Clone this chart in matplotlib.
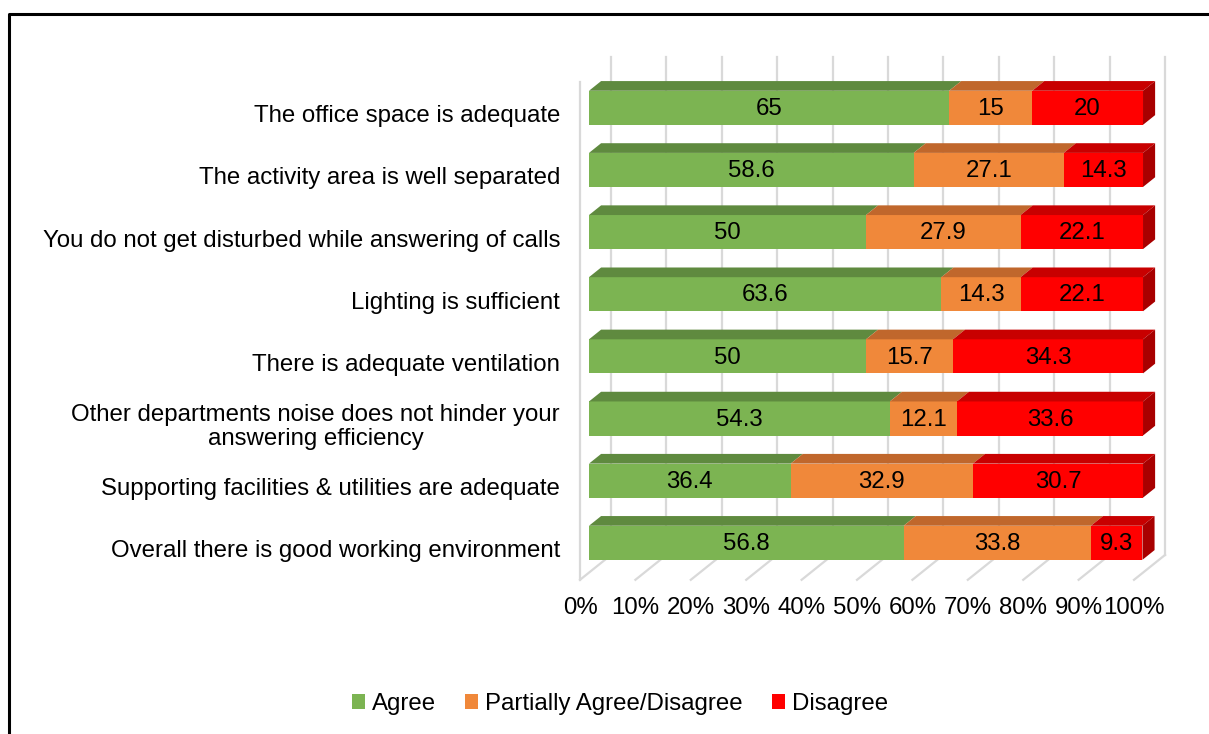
import matplotlib.pyplot as plt
from matplotlib.patches import Polygon, Rectangle, Patch
from matplotlib.lines import Line2D

plt.rcParams['font.family'] = ['Liberation Sans', 'DejaVu Sans']

# Data
categories = [
    "The office space is adequate",
    "The activity area is well separated",
    "You do not get disturbed while answering of calls",
    "Lighting is sufficient",
    "There is adequate ventilation",
    "Other departments noise does not hinder your\nanswering efficiency",
    "Supporting facilities & utilities are adequate",
    "Overall there is good working environment",
]
agree = [65, 58.6, 50, 63.6, 50, 54.3, 36.4, 56.8]
partial = [15, 27.1, 27.9, 14.3, 15.7, 12.1, 32.9, 33.8]
disagree = [20, 14.3, 22.1, 22.1, 34.3, 33.6, 30.7, 9.3]
series_names = ["Agree", "Partially Agree/Disagree", "Disagree"]
ticks = [0, 10, 20, 30, 40, 50, 60, 70, 80, 90, 100]

face = ["#7cb452", "#f0883a", "#ff0000"]
top = ["#5f8a3f", "#c0672c", "#c80000"]
side = ["#4e7334", "#a1521f", "#a80000"]

FS = 17.3

# fake 3d settings (depth direction in data units)
DX = 5.6     # x shift for full depth
DY = 0.40    # row shift for full depth
D_FRONT, D_BACK = 0.29, 0.68
HALF = 0.274
FLOOR = 7.48
WALL_TOP = -0.53

fig = plt.figure(figsize=(12.09, 7.34), dpi=100)
W, H = 1209, 734
ax = fig.add_axes([560 / W, 1 - 590 / H, 620 / W, 540 / H])
ax.set_xlim(-3.61, 108.3)
ax.set_ylim(7.644, -1.046)
ax.axis('off')


def P(v, r, d):
    return (v + d * DX, r - d * DY)


grid_kw = dict(color="#d9d9d9", lw=1.6, zorder=1)
# back wall gridlines
for t in ticks:
    x0, y0 = P(t, FLOOR, 1)
    x1, y1 = P(t, WALL_TOP, 1)
    ax.plot([x0, x1], [y0, y1], **grid_kw)
    # floor lines
    a = P(t, FLOOR, 0)
    b = P(t, FLOOR, 1)
    ax.plot([a[0], b[0]], [a[1], b[1]], **grid_kw)
# left wall front edge
ax.plot([0, 0], [FLOOR, WALL_TOP], **grid_kw)

# bars
for i, cat in enumerate(categories):
    vals = [agree[i], partial[i], disagree[i]]
    left = 0
    for k, v in enumerate(vals):
        right = left + v
        fx, fy = P(left, i - HALF, D_FRONT)
        ax.add_patch(Rectangle((fx, fy), v, 2 * HALF, facecolor=face[k],
                               edgecolor='none', zorder=3))
        tp = [P(left, i - HALF, D_FRONT), P(right, i - HALF, D_FRONT),
              P(right, i - HALF, D_BACK), P(left, i - HALF, D_BACK)]
        ax.add_patch(Polygon(tp, closed=True, facecolor=top[k],
                             edgecolor='none', zorder=3))
        if k == len(vals) - 1:
            sp = [P(right, i - HALF, D_FRONT), P(right, i + HALF, D_FRONT),
                  P(right, i + HALF, D_BACK), P(right, i - HALF, D_BACK)]
            ax.add_patch(Polygon(sp, closed=True, facecolor=side[k],
                                 edgecolor='none', zorder=3))
        cx, cy = P((left + right) / 2, i, D_FRONT)
        ax.text(cx, cy + 0.02, f"{v:g}", ha='center', va='center', fontsize=FS,
                color='black', zorder=4)
        left = right
    # category label
    ax.text(-3.6, i + 0.02, cat, ha='right', va='center', multialignment='center',
            fontsize=FS, color='black', clip_on=False, linespacing=1.1)

# x tick labels
for t in ticks:
    ax.text(t, FLOOR + 0.45, f"{t}%", ha='center', va='center', fontsize=FS,
            clip_on=False)

handles = [Patch(facecolor=c, edgecolor='none') for c in face]
fig.legend(handles, series_names, loc='center', bbox_to_anchor=(620 / W, 1 - 704 / H),
           ncol=3, frameon=False, fontsize=FS, handlelength=0.55, handleheight=0.55,
           handletextpad=0.3, columnspacing=1.2)

# outer frame
fig.add_artist(Line2D([9 / W, 9 / W, 1.0], [0.0, 1 - 14 / H, 1 - 14 / H],
                      color='black', lw=2.2, transform=fig.transFigure))

fig.savefig("out.png", dpi=100, facecolor='white')
